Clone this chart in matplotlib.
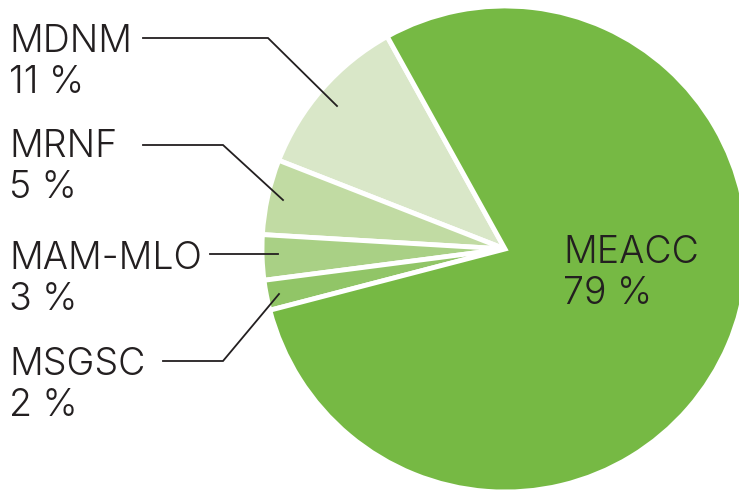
import numpy as np
from matplotlib import pyplot as plt

plt.rcParams['font.family'] = ['Inter', 'DejaVu Sans']
plt.rcParams['font.weight'] = 300

# data, in drawing order (counterclockwise from the MDNM/MEACC boundary)
labels = ['MDNM', 'MRNF', 'MAM-MLO', 'MSGSC', 'MEACC']
values = [11, 5, 3, 2, 79]
colors = ['#d9e7c8', '#c1dba3', '#a9d085', '#91c567', '#76b944']

H = 491  # figure height in px, axes are in pixel units (y up)

fig = plt.figure(figsize=(7.39, 4.91), dpi=100)
ax = fig.add_axes([0, 0, 1, 1])

cx, cy, r = 505, H - 249, 243
ax.pie(values, colors=colors, startangle=119, counterclock=True,
       center=(cx, cy), radius=r, frame=True,
       wedgeprops=dict(edgecolor='white', linewidth=3.5))
ax.set_xlim(0, 739)
ax.set_ylim(0, H)
ax.set_aspect('equal')
ax.axis('off')

# label text positions (baseline of first line), in px from top-left
text_pos = {'MDNM': (9, 52), 'MRNF': (9, 157), 'MAM-MLO': (9, 269),
            'MSGSC': (9, 375), 'MEACC': (563, 263)}
# leader lines, px from top-left
leaders = {
    'MDNM': [(143, 38), (268, 38), (337, 106)],
    'MRNF': [(143, 145), (223, 145), (283, 200)],
    'MAM-MLO': [(210, 254), (278, 254)],
    'MSGSC': [(163, 361), (223, 361), (279, 294)],
}

for name, v in zip(labels, values):
    x, y = text_pos[name]
    ax.text(x, H - y, name, fontsize=27, color='#231f20', va='baseline', ha='left')
    ax.text(x, H - y - 41, '%d %%' % v, fontsize=27, color='#231f20',
            va='baseline', ha='left')
    if name in leaders:
        pts = np.array(leaders[name], dtype=float)
        ax.plot(pts[:, 0], H - pts[:, 1], color='#231f20', lw=1.3,
                solid_joinstyle='miter')

fig.savefig('out.png', dpi=100)
